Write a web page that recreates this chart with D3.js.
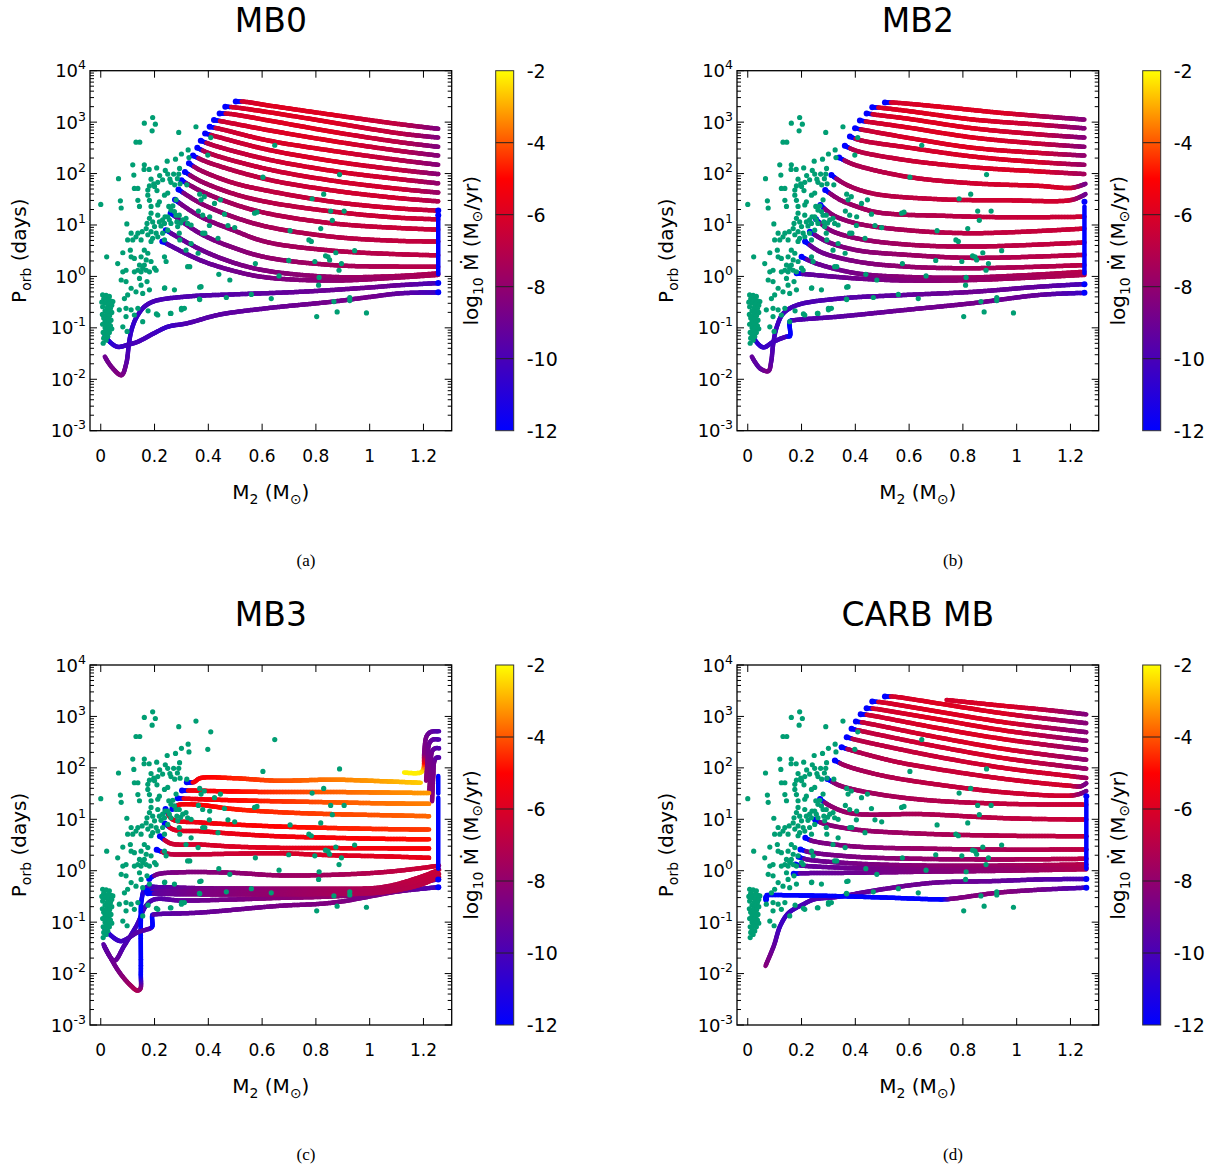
<!DOCTYPE html>
<html><head><meta charset="utf-8">
<script src="https://cdn.jsdelivr.net/npm/d3@7"></script>
<style>body{margin:0;background:#fff}svg{display:block}text{font-family:"DejaVu Sans",sans-serif;fill:#000}</style>
</head><body>
<svg id="chart" width="1218" height="1169"></svg>
<script>
// ---------- DATA ----------
const titles = ["MB0", "MB2", "MB3", "CARB MB"];
const captions = ["(a)", "(b)", "(c)", "(d)"];
const xTicks = [0, 0.2, 0.4, 0.6, 0.8, 1, 1.2];
const xTickLabels = ["0", "0.2", "0.4", "0.6", "0.8", "1", "1.2"];
const yTickExps = [-3, -2, -1, 0, 1, 2, 3, 4];
const cbTicks = [-12, -10, -8, -6, -4, -2];

// observed systems [M2 (Msun), log10 Porb (days)]
const observed = [
[0.193,3.09],[0.162,2.98],[0.203,2.96],[0.191,2.83],[0.290,2.80],[0.354,2.91],[0.131,2.61],[0.145,2.61],[0.409,2.70],[0.325,2.46],[0.300,2.38],[0.398,2.36],[0.247,2.24],[0.278,2.28],[0.328,2.31],[0.119,2.17],[0.162,2.17],[0.161,2.08],[0.180,2.08],[0.208,2.11],[0.293,2.10],[0.240,2.06],[0.123,1.97],[0.066,1.90],[0.187,1.89],[0.219,1.96],[0.249,1.99],[0.257,1.89],[0.271,1.99],[0.290,1.99],[0.285,1.90],[0.261,1.83],[0.275,1.78],[0.295,1.80],[0.230,1.88],[0.212,1.83],[0.197,1.80],[0.181,1.76],[0.200,1.75],[0.138,1.71],[0.125,1.71],[0.320,1.78],
[0.138,1.48],[0.144,1.36],[0.175,1.58],[0.181,1.48],[0.187,1.36],[0.212,1.39],[0.218,1.45],[0.209,1.67],[0.175,1.68],[0.249,1.62],[0.237,1.58],[0.253,1.36],[0.268,1.37],[0.0,1.40],[0.073,1.47],[0.076,1.33],
[0.187,1.23],[0.181,1.13],[0.193,1.06],[0.212,1.19],[0.218,1.06],[0.230,1.10],[0.239,1.16],[0.237,1.03],[0.224,0.98],[0.2,0.97],[0.172,1.03],[0.169,0.93],[0.187,0.87],[0.206,0.84],[0.175,0.81],[0.212,0.77],[0.193,0.74],[0.187,0.68],[0.154,0.87],[0.138,0.84],[0.131,0.77],[0.150,0.71],[0.119,0.71],[0.1,0.71],[0.113,0.84],[0.097,1.02],[0.11,0.51],[0.082,0.46],[0.113,0.38],[0.125,0.35],[0.15,0.38],[0.162,0.51],[0.175,0.45],[0.169,0.32],[0.144,0.22],[0.156,0.16],[0.169,0.12],[0.181,0.09],[0.138,0.12],[0.125,0.09],[0.2,0.16],[0.206,0.12],[0.187,0.29],[0.162,0.22],[0.15,0.09],[0.022,0.38],[0.063,0.25],[0.082,0.09],[0.094,0.12],[0.292,0.84],[0.286,0.97],[0.305,1.10],[0.317,1.13],[0.323,1.03],[0.336,1.0],[0.292,1.19],[0.28,1.49],[0.373,1.49],[0.385,1.55],[0.423,1.42],[0.379,1.19],[0.379,0.84],[0.323,0.19],[0.261,1.29],[0.274,1.26],[0.249,1.16],[0.23,0.84],[0.237,0.71],[0.249,0.90],[0.255,1.10],[0.261,1.03],[0.28,1.19],[0.283,1.06],[0.317,0.51],[0.336,0.64],[0.237,0.38],[0.243,0.29],
[0.076,-0.07],[0.094,-0.10],[0.113,-0.23],[0.144,-0.04],[0.15,-0.17],[0.131,-0.30],[0.156,-0.33],[0.181,-0.26],[0.172,-0.10],[0.1,-0.36],[0.088,-0.43],[0.237,-0.23],[0.274,-0.26],[0.373,-0.2],[0.367,-0.44],[0.311,-0.62],[0.3,-0.65],[0.045,-0.49],[0.069,-0.65],[0.094,-0.62],[0.113,-0.65],[0.138,-0.62],[0.125,-0.75],[0.094,-0.78],[0.082,-0.98],[0.098,-1.07],[0.156,-0.88],[0.212,-0.75],[0.261,-0.72],
[0.007,-0.36],[0.02,-0.37],[0.032,-0.39],[0.011,-0.44],[0.026,-0.46],[0.038,-0.48],[0.004,-0.50],[0.016,-0.52],[0.028,-0.54],[0.041,-0.56],[0.007,-0.59],[0.024,-0.61],[0.036,-0.62],[0.016,-0.67],[0.028,-0.69],[0.041,-0.70],[0.006,-0.74],[0.021,-0.75],[0.033,-0.76],[0.011,-0.81],[0.026,-0.83],[0.038,-0.85],[0.016,-0.88],[0.031,-0.89],[0.007,-0.93],[0.024,-0.94],[0.036,-0.96],[0.016,-1.0],[0.028,-1.01],[0.041,-1.02],[0.02,-1.06],[0.009,-1.09],[0.032,-1.09],[0.016,-1.13],[0.026,-1.17],[0.011,-1.20],[0.009,-1.30],[0.02,-1.24],
[0.647,2.55],[0.888,1.98],[0.603,1.93],[0.368,1.60],[0.445,1.49],[0.786,1.51],[0.829,1.60],[0.572,1.23],[0.581,1.25],[0.855,1.27],[0.905,1.27],[0.861,1.09],[0.460,1.21],[0.473,0.99],[0.404,0.99],[0.387,0.84],[0.363,1.27],[0.704,0.89],[0.818,0.93],[0.774,0.71],[0.783,0.68],[0.362,0.45],[0.294,0.71],[0.575,0.25],[0.699,0.31],[0.796,0.29],[0.836,0.40],[0.845,0.38],[0.851,0.32],[0.874,0.46],[0.895,0.25],[0.944,0.50],[0.886,0.12],[0.331,0.19],[0.439,0.04],[0.480,-0.07],[0.663,0.01],[0.812,-0.02],[0.810,-0.17],[0.368,-0.21],[0.368,-0.45],[0.467,-0.41],[0.560,-0.35],[0.634,-0.43],[0.238,-0.22],[0.867,-0.49],[0.926,-0.41],[0.926,-0.47],[0.879,-0.69],[0.803,-0.78],[0.988,-0.71],[0.300,-0.62],[0.259,-0.72],[0.207,-0.73],[0.176,-0.67],[0.436,0.74],[0.297,1.04],[0.498,0.95],[0.405,1.16]
];

// evolutionary tracks: [M2, log10 Porb, log10 Mdot]
const upperMB0 = [
[[0.502,3.40,-6.6],[0.529,3.40,-6.3],[0.616,3.33,-5.9],[0.864,3.14,-5.9],[1.112,2.96,-6.8],[1.255,2.87,-8.4]],
[[0.463,3.30,-6.6],[0.492,3.29,-6.3],[0.616,3.20,-5.9],[0.864,2.99,-5.9],[1.112,2.78,-6.8],[1.255,2.70,-8.4]],
[[0.442,3.17,-6.7],[0.480,3.16,-6.3],[0.616,3.04,-5.9],[0.864,2.81,-5.9],[1.112,2.61,-6.9],[1.255,2.52,-8.4]],
[[0.421,3.04,-6.8],[0.455,3.01,-6.4],[0.616,2.85,-6.0],[0.864,2.63,-5.9],[1.112,2.44,-6.9],[1.255,2.35,-8.3]],
[[0.405,2.91,-7.0],[0.442,2.87,-6.5],[0.616,2.65,-6.1],[0.864,2.44,-6.0],[1.112,2.26,-6.9],[1.255,2.17,-8.3]],
[[0.388,2.78,-7.2],[0.430,2.72,-6.7],[0.616,2.47,-6.2],[0.864,2.24,-6.0],[1.112,2.07,-6.6],[1.255,1.99,-8.2]],
[[0.372,2.64,-7.4],[0.418,2.55,-6.9],[0.616,2.28,-6.4],[0.864,2.05,-6.1],[1.112,1.89,-6.4],[1.255,1.81,-8.0]],
[[0.359,2.50,-7.6],[0.405,2.39,-7.0],[0.616,2.09,-6.5],[0.864,1.86,-6.2],[1.112,1.70,-6.3],[1.255,1.63,-7.8]],
[[0.343,2.35,-7.8],[0.393,2.23,-7.3],[0.616,1.89,-6.7],[0.864,1.67,-6.3],[1.112,1.52,-6.3],[1.255,1.46,-7.2]],
[[0.328,2.20,-8.0],[0.368,2.07,-7.6],[0.492,1.82,-7.1],[0.616,1.67,-6.8],[0.864,1.45,-6.5],[1.112,1.32,-6.3],[1.255,1.28,-6.8]],
[[0.313,2.03,-8.2],[0.368,1.86,-7.8],[0.492,1.61,-7.3],[0.616,1.45,-7.0],[0.864,1.26,-6.6],[1.112,1.14,-6.4],[1.255,1.11,-6.6]],
[[0.300,1.87,-8.4],[0.368,1.67,-8.0],[0.492,1.41,-7.5],[0.616,1.23,-7.2],[0.864,1.03,-6.8],[1.112,0.94,-6.5],[1.255,0.91,-6.6]],
[[0.289,1.69,-8.7],[0.368,1.43,-8.2],[0.492,1.16,-7.8],[0.616,0.97,-7.4],[0.864,0.77,-7.0],[1.112,0.69,-6.7],[1.255,0.68,-6.7]],
[[0.276,1.49,-8.9],[0.368,1.17,-8.5],[0.492,0.90,-8.1],[0.616,0.67,-7.7],[0.864,0.50,-7.2],[1.112,0.43,-6.9],[1.255,0.41,-6.8]],
[[0.260,1.23,-9.2],[0.368,0.84,-8.8],[0.492,0.56,-8.4],[0.616,0.37,-8.0],[0.864,0.22,-7.5],[1.112,0.19,-7.1],[1.255,0.19,-7.0]],
[[0.242,0.90,-9.4],[0.368,0.53,-9.0],[0.492,0.27,-8.7],[0.616,0.11,-8.4],[0.864,-0.01,-7.9],[1.112,0.01,-7.4],[1.255,0.06,-7.2]],
[[0.229,0.68,-9.6],[0.368,0.32,-9.2],[0.492,0.11,-8.9],[0.616,-0.02,-8.6],[0.864,-0.08,-8.1],[1.112,-0.02,-7.6],[1.255,0.03,-7.3]]
];
const lowerMB0 = [
[[0.015,-1.56,-9.0],[0.04,-1.76,-8.8],[0.077,-1.92,-8.4],[0.095,-1.69,-9.4],[0.105,-1.30,-10.3],[0.113,-1.07,-10.6],[0.125,-0.88,-10.6],[0.138,-0.75,-10.4],[0.162,-0.59,-10.2],[0.2,-0.48,-10.0],[0.323,-0.39,-9.8],[0.492,-0.35,-9.6],[0.74,-0.30,-9.2],[0.988,-0.22,-8.9],[1.112,-0.17,-9.2],[1.255,-0.13,-10.0]],
[[0.014,-1.14,-11.5],[0.035,-1.28,-11.0],[0.063,-1.37,-10.5],[0.1,-1.33,-10.2],[0.138,-1.27,-10.0],[0.2,-1.10,-10.2],[0.249,-0.98,-10.5],[0.323,-0.91,-9.8],[0.435,-0.75,-9.5],[0.616,-0.62,-9.2],[0.864,-0.49,-8.8],[1.0,-0.40,-8.8],[1.112,-0.33,-9.3],[1.255,-0.31,-10.3]]
];
const blueMB0 = [[1.255,1.28],[1.255,1.19],[1.255,-0.13],[1.255,-0.31]];
const stripMB0 = [[1.255,1.14,0.04]];

const upperMB2 = [
[[0.510,3.38,-6.5],[0.541,3.38,-6.2],[0.714,3.30,-5.9],[0.962,3.17,-6.0],[1.252,3.05,-8.3]],
[[0.463,3.29,-6.6],[0.491,3.28,-6.2],[0.590,3.22,-5.9],[0.838,3.05,-5.9],[1.085,2.95,-6.6],[1.252,2.88,-8.3]],
[[0.442,3.17,-6.7],[0.467,3.15,-6.3],[0.590,3.07,-5.9],[0.838,2.88,-5.9],[1.085,2.76,-6.6],[1.252,2.70,-8.3]],
[[0.417,3.03,-6.8],[0.442,3.01,-6.4],[0.590,2.90,-6.0],[0.838,2.70,-5.9],[1.085,2.58,-6.5],[1.252,2.52,-8.2]],
[[0.399,2.88,-7.0],[0.429,2.85,-6.6],[0.590,2.70,-6.1],[0.838,2.50,-5.9],[1.085,2.40,-6.3],[1.252,2.35,-8.0]],
[[0.380,2.72,-7.2],[0.417,2.65,-6.8],[0.590,2.51,-6.3],[0.838,2.33,-6.0],[1.085,2.22,-6.1],[1.252,2.17,-7.8]],
[[0.361,2.54,-7.5],[0.405,2.44,-7.0],[0.590,2.26,-6.5],[0.838,2.12,-6.1],[1.085,2.04,-6.0],[1.252,1.99,-7.5]],
[[0.340,2.31,-7.8],[0.392,2.18,-7.3],[0.590,1.94,-6.7],[0.838,1.81,-6.3],[1.085,1.76,-6.1],[1.203,1.72,-6.2],[1.240,1.77,-8.0],[1.256,1.80,-8.8]],
[[0.311,1.97,-8.1],[0.368,1.78,-7.6],[0.467,1.61,-7.1],[0.714,1.50,-6.6],[0.962,1.48,-6.3],[1.197,1.48,-6.3],[1.238,1.55,-8.2],[1.256,1.60,-9.0]],
[[0.288,1.68,-8.4],[0.343,1.49,-8.0],[0.405,1.36,-7.7],[0.467,1.26,-7.5],[0.547,1.21,-7.3],[0.714,1.18,-7.0],[0.962,1.15,-6.6],[1.252,1.16,-6.4]],
[[0.270,1.39,-8.6],[0.318,1.19,-8.2],[0.405,1.03,-7.8],[0.590,0.90,-7.3],[0.838,0.84,-6.8],[1.252,0.93,-6.5]],
[[0.254,1.11,-8.8],[0.306,0.90,-8.4],[0.405,0.74,-8.0],[0.590,0.62,-7.5],[0.838,0.58,-7.0],[1.252,0.66,-6.6]],
[[0.231,0.87,-9.1],[0.293,0.68,-8.7],[0.405,0.51,-8.3],[0.590,0.42,-7.8],[0.838,0.36,-7.3],[1.252,0.42,-6.8]],
[[0.213,0.68,-9.3],[0.269,0.48,-8.9],[0.405,0.29,-8.5],[0.590,0.19,-8.0],[0.838,0.16,-7.5],[1.252,0.22,-6.9]],
[[0.200,0.38,-9.5],[0.256,0.25,-9.1],[0.405,0.06,-8.7],[0.590,-0.01,-8.2],[0.838,-0.02,-7.7],[1.252,0.09,-7.0]],
[[0.182,0.06,-9.6],[0.244,0.03,-9.3],[0.405,-0.04,-8.9],[0.590,-0.08,-8.4],[0.838,-0.07,-7.9],[1.252,0.03,-7.1]]
];
const lowerMB2 = [
[[0.015,-1.56,-9.2],[0.046,-1.79,-9.6],[0.077,-1.84,-8.6],[0.087,-1.66,-9.5],[0.095,-1.30,-10.0],[0.108,-0.98,-10.3],[0.132,-0.72,-10.3],[0.182,-0.56,-10.0],[0.343,-0.43,-9.7],[0.590,-0.36,-9.3],[0.838,-0.30,-9.0],[1.085,-0.20,-9.3],[1.252,-0.15,-10.0]],
[[0.015,-1.11,-11.5],[0.027,-1.24,-11.0],[0.058,-1.38,-10.5],[0.095,-1.27,-10.2],[0.145,-1.17,-10.0],[0.157,-1.16,-12],[0.157,-0.87,-12],[0.175,-0.85,-9.8],[0.343,-0.78,-9.5],[0.590,-0.65,-9.0],[0.838,-0.52,-8.8],[1.085,-0.36,-9.2],[1.252,-0.32,-10.3]]
];
const blueMB2 = [[1.252,1.45],[1.252,-0.15],[1.252,-0.32]];
const stripMB2 = [[1.252,1.36,0.06]];

const upperMB3 = [
[[0.320,1.72,-5.8],[0.345,1.72,-5.5],[0.370,1.80,-5.2],[0.49,1.80,-4.7],[0.656,1.75,-4.1],[0.862,1.77,-3.6],[1.048,1.74,-3.1],[1.19,1.71,-2.6]],
[[0.302,1.56,-5.8],[0.33,1.56,-5.5],[0.49,1.54,-5.0],[0.656,1.53,-4.4],[0.862,1.53,-3.9],[1.048,1.52,-3.5],[1.221,1.51,-3.2]],
[[0.286,1.41,-6.0],[0.32,1.40,-5.6],[0.49,1.37,-5.0],[0.656,1.35,-4.5],[0.862,1.33,-4.0],[1.048,1.31,-3.7],[1.221,1.30,-3.5]],
[[0.266,1.20,-6.0],[0.29,1.28,-5.4],[0.367,1.28,-5.1],[0.49,1.20,-4.8],[0.656,1.14,-4.5],[0.862,1.10,-4.2],[1.048,1.08,-4.0],[1.221,1.06,-3.8]],
[[0.241,1.20,-6.2],[0.266,1.00,-5.8],[0.367,0.94,-5.5],[0.49,0.90,-5.2],[0.656,0.86,-5.0],[0.862,0.83,-4.7],[1.048,0.81,-4.5],[1.221,0.80,-4.3]],
[[0.238,0.92,-6.3],[0.27,0.80,-6.0],[0.367,0.77,-5.8],[0.49,0.72,-5.6],[0.656,0.67,-5.4],[0.862,0.64,-5.2],[1.048,0.62,-5.0],[1.221,0.61,-4.8]],
[[0.220,0.67,-6.8],[0.26,0.53,-6.4],[0.367,0.51,-6.2],[0.49,0.47,-6.0],[0.656,0.445,-5.8],[0.862,0.44,-5.5],[1.048,0.435,-5.3],[1.221,0.43,-5.2]],
[[0.208,0.41,-7.0],[0.25,0.33,-6.8],[0.367,0.32,-6.6],[0.49,0.33,-6.4],[0.656,0.34,-6.2],[0.862,0.30,-6.0],[1.048,0.28,-5.8],[1.221,0.25,-5.6]],
[[0.180,-0.16,-9.3],[0.21,-0.07,-8.8],[0.30,-0.03,-8.5],[0.49,-0.04,-8.2],[0.656,-0.09,-7.8],[0.862,-0.08,-7.5],[1.048,-0.03,-7.0],[1.19,0.05,-6.5],[1.258,0.10,-6.4]],
[[0.171,-0.39,-9.8],[0.22,-0.40,-9.3],[0.367,-0.41,-8.6],[0.656,-0.42,-7.9],[0.862,-0.41,-7.5],[1.048,-0.38,-7.2],[1.19,-0.20,-6.8],[1.258,-0.06,-6.6]],
[[0.175,-0.44,-9.8],[0.22,-0.45,-9.3],[0.367,-0.46,-8.6],[0.656,-0.46,-7.9],[0.862,-0.45,-7.5],[1.048,-0.42,-7.2],[1.19,-0.27,-6.9],[1.258,-0.12,-6.7]]
];
const lowerMB3 = [
[[0.012,-1.46,-9.5],[0.05,-1.75,-9.0],[0.087,-1.46,-9.8],[0.136,-1.04,-10.3],[0.167,-0.69,-10.2],[0.198,-0.56,-9.8],[0.30,-0.58,-9.2],[0.49,-0.56,-8.7],[0.656,-0.53,-8.3],[0.862,-0.50,-8.0],[1.048,-0.43,-8.2],[1.19,-0.22,-9.0],[1.258,-0.17,-9.8]],
[[0.010,-1.43,-9.6],[0.062,-1.92,-8.8],[0.105,-2.2,-7.8],[0.136,-2.33,-7.2],[0.147,-2.30,-7.6],[0.149,-2.0,-12],[0.149,-1.0,-12],[0.152,-0.56,-12],[0.167,-0.33,-10.5],[0.22,-0.32,-9.6],[0.367,-0.34,-8.8],[0.656,-0.35,-8.0],[0.862,-0.35,-7.5],[1.048,-0.32,-7.1],[1.19,-0.12,-6.7],[1.258,0.02,-6.5]],
[[0.012,-1.11,-11.2],[0.04,-1.27,-10.8],[0.074,-1.37,-10.3],[0.105,-1.30,-9.9],[0.136,-1.20,-9.6],[0.188,-1.11,-9.5],[0.192,-1.08,-12],[0.192,-0.86,-12],[0.198,-0.85,-9.6],[0.367,-0.815,-9.2],[0.656,-0.686,-8.7],[0.862,-0.622,-8.5],[1.11,-0.40,-8.8],[1.258,-0.32,-10.0]],
[[1.128,1.91,-2.2],[1.19,1.91,-2.2],[1.200,1.98,-2.5],[1.203,2.3,-8.5],[1.212,2.62,-8.8],[1.228,2.70,-9.2],[1.258,2.71,-9.8]],
[[1.21,1.75,-8.2],[1.215,2.1,-8.6],[1.222,2.48,-8.9],[1.235,2.55,-9.3],[1.258,2.55,-9.8]],
[[1.222,1.55,-8.2],[1.226,1.9,-8.6],[1.232,2.32,-8.9],[1.243,2.38,-9.3],[1.258,2.38,-9.8]],
[[1.232,1.35,-8.2],[1.236,1.8,-8.6],[1.241,2.14,-8.9],[1.249,2.20,-9.3],[1.258,2.20,-9.8]]
];
const blueMB3 = [[1.255,-0.17],[1.255,-0.32]];
const stripMB3 = [[1.255,1.84,1.50],[1.255,1.42,0.04]];

const upperCARB = [
[[0.510,3.386,-6.5],[0.54,3.386,-6.2],[0.70,3.26,-5.9],[0.962,3.05,-6.0],[1.259,2.869,-8.3]],
[[0.463,3.289,-6.6],[0.49,3.28,-6.2],[0.70,3.10,-5.9],[0.962,2.88,-6.0],[1.259,2.694,-8.3]],
[[0.442,3.16,-6.7],[0.47,3.15,-6.3],[0.70,2.95,-5.9],[0.962,2.72,-6.0],[1.259,2.526,-8.2]],
[[0.420,3.043,-6.8],[0.445,3.03,-6.4],[0.70,2.78,-6.0],[0.962,2.55,-6.0],[1.259,2.352,-8.1]],
[[0.402,2.901,-7.0],[0.43,2.88,-6.6],[0.70,2.60,-6.1],[0.962,2.36,-6.0],[1.259,2.158,-8.0]],
[[0.386,2.759,-7.2],[0.41,2.73,-6.8],[0.70,2.42,-6.3],[0.962,2.18,-6.1],[1.259,1.983,-7.8]],
[[0.368,2.597,-7.5],[0.40,2.55,-7.0],[0.70,2.22,-6.5],[0.962,1.99,-6.2],[1.2,1.84,-6.3],[1.259,1.802,-7.6]],
[[0.349,2.403,-7.8],[0.38,2.35,-7.3],[0.55,2.12,-6.9],[0.70,1.98,-6.6],[0.962,1.78,-6.3],[1.2,1.65,-6.2],[1.238,1.64,-7.8],[1.259,1.70,-8.8]],
[[0.324,2.145,-8.1],[0.36,2.05,-7.6],[0.50,1.85,-7.2],[0.70,1.68,-6.8],[0.962,1.52,-6.4],[1.2,1.46,-6.3],[1.238,1.50,-8.0],[1.259,1.55,-9.0]],
[[0.296,1.783,-8.4],[0.34,1.66,-8.0],[0.45,1.52,-7.6],[0.65,1.38,-7.2],[0.962,1.30,-6.7],[1.259,1.285,-6.4]],
[[0.269,1.395,-8.6],[0.30,1.28,-8.2],[0.38,1.12,-7.8],[0.65,1.10,-7.3],[0.962,1.02,-6.8],[1.259,0.994,-6.5]],
[[0.25,0.994,-8.8],[0.28,0.92,-8.4],[0.40,0.80,-8.0],[0.65,0.72,-7.5],[0.962,0.68,-7.0],[1.259,0.671,-6.6]],
[[0.214,0.639,-9.1],[0.24,0.58,-8.7],[0.40,0.47,-8.3],[0.65,0.43,-7.8],[0.962,0.41,-7.3],[1.259,0.413,-6.8]],
[[0.196,0.413,-9.3],[0.23,0.36,-8.9],[0.40,0.27,-8.5],[0.65,0.23,-8.0],[0.962,0.22,-7.5],[1.259,0.232,-6.9]],
[[0.189,0.270,-9.5],[0.22,0.22,-9.1],[0.40,0.14,-8.7],[0.65,0.10,-8.2],[0.962,0.10,-7.7],[1.259,0.122,-7.0]],
[[0.177,0.122,-9.6],[0.20,0.10,-9.3],[0.40,0.05,-8.9],[0.65,0.03,-8.4],[0.962,0.04,-7.9],[1.259,0.057,-7.1]],
[[0.171,-0.059,-9.7],[0.20,-0.05,-9.4],[0.40,-0.04,-9.0],[0.65,-0.02,-8.5],[0.962,0.0,-8.0],[1.259,0.03,-7.2]]
];
const lowerCARB = [
[[0.739,3.32,-6.2],[0.962,3.20,-6.0],[1.085,3.14,-6.6],[1.259,3.04,-8.4]],
[[0.066,-1.85,-8.3],[0.097,-1.46,-9.2],[0.121,-1.07,-10.3],[0.152,-0.82,-10.3],[0.208,-0.65,-10.0],[0.245,-0.56,-9.8],[0.332,-0.51,-9.5],[0.455,-0.40,-9.2],[0.579,-0.30,-9.0],[0.703,-0.23,-9.0],[0.926,-0.20,-9.2],[1.085,-0.17,-9.5],[1.259,-0.16,-10.0]],
[[0.07,-0.47,-12],[0.3,-0.49,-12],[0.5,-0.52,-12],[0.728,-0.557,-12],[0.76,-0.545,-8.6],[0.926,-0.43,-8.3],[1.085,-0.37,-8.8],[1.259,-0.33,-10.0]]
];
const blueCARB = [[0.068,-0.52],[0.068,-0.56],[1.259,1.45],[1.259,-0.16],[1.259,-0.33]];
const stripCARB = [[1.259,1.38,0.04]];

// ---------- RENDER ----------
const panels = [
  {upper: upperMB0, lower: lowerMB0, dots: blueMB0, strips: stripMB0, ox: 0, oy: 0},
  {upper: upperMB2, lower: lowerMB2, dots: blueMB2, strips: stripMB2, ox: 647, oy: 0},
  {upper: upperMB3, lower: lowerMB3, dots: blueMB3, strips: stripMB3, ox: 0, oy: 594.3},
  {upper: upperCARB, lower: lowerCARB, dots: blueCARB, strips: stripCARB, ox: 647, oy: 594.3}
];
const PL = 90, PT = 70.7, PW = 361.7, PH = 360;
const svg = d3.select("#chart");
const defs = svg.append("defs");

function pal(v) {
  v = Math.max(-12, Math.min(-2, v));
  if (v <= -5) { const t = (v + 12) / 7; return `rgb(${Math.round(255*t)},0,${Math.round(255*(1-t))})`; }
  const t = (v + 5) / 3; return `rgb(255,${Math.round(255*t)},0)`;
}

const lineGen = d3.line().curve(d3.curveCatmullRom.alpha(0.5));

function drawTrack(g, pts, x, y, mark) {
  const px = pts.map(d => [x(d[0]), y(Math.pow(10, d[1]))]);
  const tmp = g.append("path").attr("d", lineGen(px)).attr("fill", "none");
  const node = tmp.node();
  const Lt = node.getTotalLength();
  const cum = [0];
  for (let i = 1; i < px.length; i++) {
    const pp = g.append("path").attr("d", lineGen(px.slice(0, i + 1)));
    cum.push(pp.node().getTotalLength());
    pp.remove();
  }
  const sc = cum[cum.length - 1] > 0 ? Lt / cum[cum.length - 1] : 1;
  for (let i = 0; i < cum.length; i++) cum[i] *= sc;
  const seg = g.append("g").attr("stroke-linecap", "round").attr("stroke-width", 4.5);
  const step = 1.5;
  let p0 = node.getPointAtLength(0);
  for (let s = step; s < Lt + step; s += step) {
    const ss = Math.min(s, Lt);
    const p1 = node.getPointAtLength(ss);
    const mid = ss - step / 2;
    let k = 0;
    while (k < cum.length - 2 && cum[k + 1] < mid) k++;
    const den = cum[k + 1] - cum[k];
    let t = den > 0 ? (mid - cum[k]) / den : 0;
    t = Math.max(0, Math.min(1, t));
    let v = pts[k][2] + (pts[k + 1][2] - pts[k][2]) * t;
    if (mark && ss < 7) v = -12;
    seg.append("line").attr("x1", p0.x).attr("y1", p0.y).attr("x2", p1.x).attr("y2", p1.y).attr("stroke", pal(v));
    p0 = p1;
    if (ss >= Lt) break;
  }
  tmp.remove();
  if (mark) g.append("circle").attr("cx", px[0][0]).attr("cy", px[0][1]).attr("r", 3).attr("fill", "#0000ff");
}

// colorbar gradient
const grad = defs.append("linearGradient").attr("id", "cbgrad").attr("x1", 0).attr("y1", 1).attr("x2", 0).attr("y2", 0);
grad.append("stop").attr("offset", 0).attr("stop-color", pal(-12));
grad.append("stop").attr("offset", 0.7).attr("stop-color", pal(-5));
grad.append("stop").attr("offset", 1).attr("stop-color", pal(-2));

panels.forEach((p, pi) => {
  const L = PL + p.ox, T = PT + p.oy, R = L + PW, B = T + PH;
  const x = d3.scaleLinear().domain([-0.04, 1.305]).range([L, R]);
  const y = d3.scaleLog().domain([1e-3, 1e4]).range([B, T]);
  const g = svg.append("g");
  defs.append("clipPath").attr("id", "clip" + pi).append("rect").attr("x", L).attr("y", T).attr("width", PW).attr("height", PH);
  const plot = g.append("g").attr("clip-path", `url(#clip${pi})`);

  p.lower.forEach(tr => drawTrack(plot, tr, x, y, false));
  p.upper.forEach(tr => drawTrack(plot, tr, x, y, true));
  plot.append("g").selectAll("line").data(p.strips).join("line")
    .attr("x1", d => x(d[0])).attr("x2", d => x(d[0]))
    .attr("y1", d => y(Math.pow(10, d[1]))).attr("y2", d => y(Math.pow(10, d[2])))
    .attr("stroke", "#0000ff").attr("stroke-width", 4.5).attr("stroke-linecap", "round");
  plot.append("g").selectAll("circle").data(p.dots).join("circle")
    .attr("cx", d => x(d[0])).attr("cy", d => y(Math.pow(10, d[1]))).attr("r", 3).attr("fill", "#0000ff");
  plot.append("g").selectAll("circle").data(observed).join("circle")
    .attr("cx", d => x(d[0])).attr("cy", d => y(Math.pow(10, d[1]))).attr("r", 2.6).attr("fill", "#009e73");

  // frame
  g.append("rect").attr("x", L).attr("y", T).attr("width", PW).attr("height", PH)
    .attr("fill", "none").attr("stroke", "#000").attr("stroke-width", 1.3);
  const tk = g.append("g").attr("stroke", "#000").attr("stroke-width", 1);
  xTicks.forEach(v => {
    tk.append("line").attr("x1", x(v)).attr("x2", x(v)).attr("y1", B).attr("y2", B - 7);
    tk.append("line").attr("x1", x(v)).attr("x2", x(v)).attr("y1", T).attr("y2", T + 7);
  });
  yTickExps.forEach(e => {
    const yy = y(Math.pow(10, e));
    tk.append("line").attr("x1", L).attr("x2", L + 7).attr("y1", yy).attr("y2", yy);
    tk.append("line").attr("x1", R).attr("x2", R - 7).attr("y1", yy).attr("y2", yy);
    if (e < 4) for (let m = 2; m <= 9; m++) {
      const ym = y(m * Math.pow(10, e));
      tk.append("line").attr("x1", L).attr("x2", L + 4).attr("y1", ym).attr("y2", ym);
      tk.append("line").attr("x1", R).attr("x2", R - 4).attr("y1", ym).attr("y2", ym);
    }
  });
  // tick labels
  xTicks.forEach((v, i) => {
    g.append("text").attr("x", x(v)).attr("y", B + 31).attr("text-anchor", "middle")
      .attr("font-size", 17).text(xTickLabels[i]);
  });
  yTickExps.forEach(e => {
    const t = g.append("text").attr("x", L - 4).attr("y", y(Math.pow(10, e)) + 6.5)
      .attr("text-anchor", "end").attr("font-size", 18);
    t.append("tspan").text("10");
    t.append("tspan").attr("dy", -8).attr("font-size", 12.5).text(String(e));
  });
  // axis labels
  const xl = g.append("text").attr("x", L + PW / 2).attr("y", B + 68).attr("text-anchor", "middle").attr("font-size", 20);
  xl.append("tspan").text("M");
  xl.append("tspan").attr("font-size", 14).attr("dy", 5).text("2");
  xl.append("tspan").attr("dy", -5).text(" (M");
  xl.append("tspan").attr("font-size", 14).attr("dy", 5).text("⊙");
  xl.append("tspan").attr("dy", -5).text(")");
  const yl = g.append("text").attr("transform", `translate(${L - 64},${(T + B) / 2}) rotate(-90)`)
    .attr("text-anchor", "middle").attr("font-size", 20);
  yl.append("tspan").text("P");
  yl.append("tspan").attr("font-size", 14).attr("dy", 5).text("orb");
  yl.append("tspan").attr("dy", -5).text(" (days)");
  // title & caption
  g.append("text").attr("x", L + PW / 2).attr("y", T - 38.7).attr("text-anchor", "middle")
    .attr("font-size", 33).text(titles[pi]);
  g.append("text").attr("x", L + 216).attr("y", B + 135).attr("text-anchor", "middle")
    .attr("font-size", 17).style("font-family", "'Liberation Serif', 'Times New Roman', serif").text(captions[pi]);

  // colorbar
  const cbx = L + 405.7, cbw = 18;
  const cy = d3.scaleLinear().domain([-12, -2]).range([B, T]);
  g.append("rect").attr("x", cbx).attr("y", T).attr("width", cbw).attr("height", PH).attr("fill", "url(#cbgrad)");
  cbTicks.forEach(v => {
    if (v > -12 && v < -2) g.append("line").attr("x1", cbx).attr("x2", cbx + cbw).attr("y1", cy(v)).attr("y2", cy(v))
      .attr("stroke", "#222").attr("stroke-width", 1);
    g.append("text").attr("x", cbx + cbw + 13).attr("y", cy(v) + 7).attr("font-size", 19).text(String(v));
  });
  g.append("rect").attr("x", cbx).attr("y", T).attr("width", cbw).attr("height", PH)
    .attr("fill", "none").attr("stroke", "#333").attr("stroke-width", 1);
  const cl = g.append("text").attr("transform", `translate(${L + 388},${(T + B) / 2}) rotate(-90)`)
    .attr("text-anchor", "middle").attr("font-size", 20);
  cl.append("tspan").text("log");
  cl.append("tspan").attr("font-size", 14).attr("dy", 5).text("10");
  cl.append("tspan").attr("dy", -5).text(" Ṁ (M");
  cl.append("tspan").attr("font-size", 14).attr("dy", 4).text("⊙");
  cl.append("tspan").attr("dy", -4).text("/yr)");
});
</script>
</body></html>
